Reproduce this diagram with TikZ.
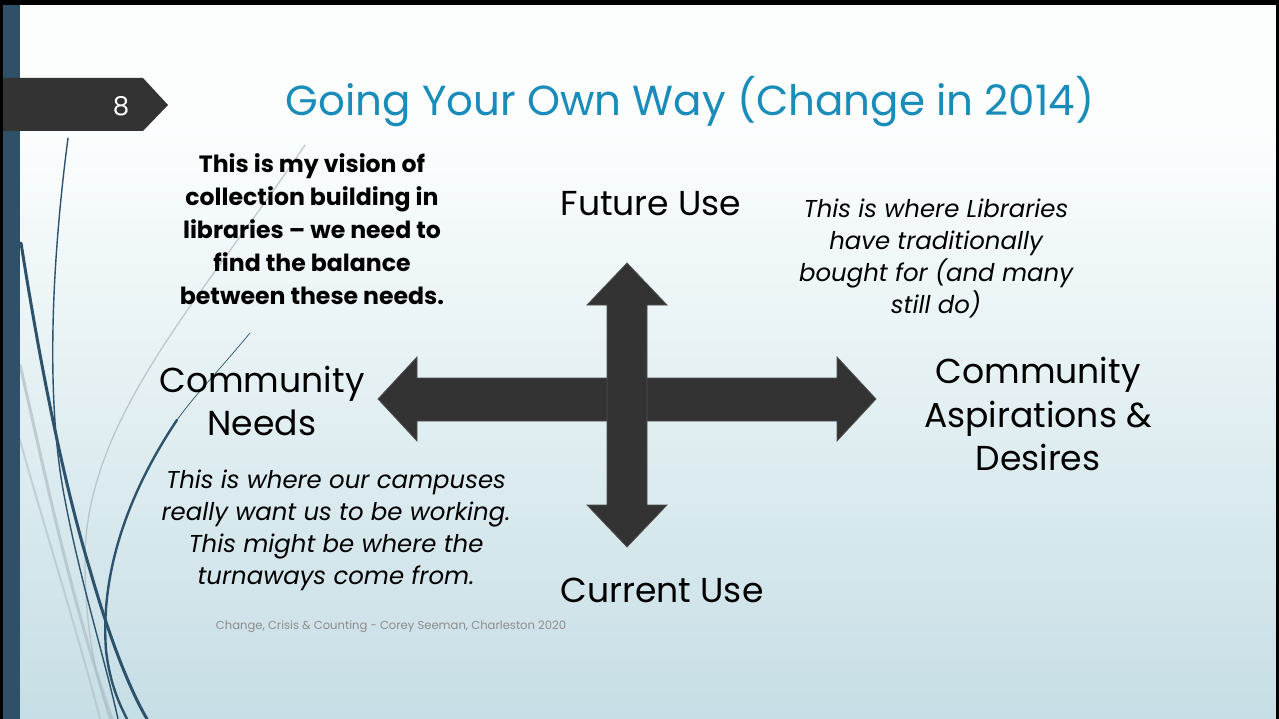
\documentclass[tikz,border=0pt]{standalone}
\usepackage{fontspec}
\setmainfont{Poppins}
\definecolor{bgtop}{RGB}{252,254,254}
\definecolor{bgbot}{RGB}{198,222,229}
\definecolor{barcol}{RGB}{46,80,104}
\definecolor{badgecol}{RGB}{51,51,51}
\definecolor{titlecol}{RGB}{26,140,186}
\definecolor{arrowcol}{RGB}{51,51,51}
\definecolor{arrowedge}{RGB}{80,80,80}
\definecolor{curvecol}{RGB}{44,82,108}
\definecolor{graycurve}{RGB}{175,190,196}
\definecolor{footcol}{RGB}{140,140,140}
\tikzset{
  bigtext/.style={align=center, inner sep=0pt, font=\fontsize{34.6}{43.5}\selectfont},
  itext/.style={align=center, inner sep=0pt, font=\fontsize{24.4}{32}\selectfont\itshape},
  btext/.style={align=center, inner sep=0pt, font=\fontsize{23.6}{33}\selectfont\bfseries},
  arrowshape/.style={fill=arrowcol, draw=arrowedge, line width=0.8pt, line join=miter},
  darkcurve/.style={draw=curvecol, line cap=round},
  lightcurve/.style={draw=graycurve, line cap=round}
}
\begin{document}
\begin{tikzpicture}[x=1pt,y=-1pt]
\useasboundingbox (0,0) rectangle (1279,719);
% background
\fill[bgtop] (0,0) rectangle (1279,125);
\shade[top color=bgtop, bottom color=bgbot] (0,125) rectangle (1279,719);
% decorative curves
\draw[lightcurve, line width=1.3pt, opacity=0.8] (305,145) .. controls (200,300) and (85,420) .. (85,560) .. controls (85,640) and (100,690) .. (110,719);
\draw[lightcurve, line width=3pt, opacity=0.7] (20,365) .. controls (40,450) and (70,600) .. (112,719);
\draw[lightcurve, line width=2pt, opacity=0.6] (20,440) .. controls (45,530) and (80,640) .. (100,719);
\draw[darkcurve, line width=1.4pt] (68,138) .. controls (52,260) and (45,400) .. (65,500) .. controls (80,580) and (105,660) .. (118,719);
\draw[darkcurve, line width=3pt] (21,243) .. controls (38,350) and (60,470) .. (90,570) .. controls (110,640) and (130,690) .. (147,719);
\draw[darkcurve, line width=0.7pt] (250,333) .. controls (215,375) and (195,395) .. (177,420);
\draw[darkcurve, line width=2.4pt] (177,420) .. controls (130,490) and (100,570) .. (106,650) .. controls (110,685) and (120,705) .. (127,719);
% frame
\fill[black] (0,0) rectangle (1279,5);
\fill[black] (0,0) rectangle (3,719);
\fill[black] (1276,0) rectangle (1279,719);
\fill[barcol] (3,5) rectangle (20,719);
% badge
\fill[badgecol] (3,78) -- (143,78) -- (168,105) -- (143,131) -- (3,131) -- cycle;
\node[text=white, inner sep=0pt, font=\fontsize{26}{30}\selectfont] (num) at (121,106) {8};
% title
\node[text=titlecol, inner sep=0pt, font=\fontsize{42}{50}\selectfont] (title) at (690,102) {Going Your Own Way (Change in 2014)};
% arrows
\fill[arrowshape] (378,399) -- (417,357) -- (417,378) -- (837,378) -- (837,357) -- (876,399) -- (837,441) -- (837,421) -- (417,421) -- (417,441) -- cycle;
\fill[arrowshape] (627,263) -- (667,305) -- (647,305) -- (647,505) -- (667,505) -- (627,547) -- (587,505) -- (607,505) -- (607,305) -- (587,305) -- cycle;
% texts
\node[btext] (vision) at (312,229) {This is my vision of\\collection building in\\libraries -- we need to\\find the balance\\between these needs.};
\node[bigtext] (future) at (651,204) {Future Use};
\node[itext] (trad) at (936,258) {This is where Libraries\\have traditionally\\bought for (and many\\still do)};
\node[bigtext] (needs) at (262,401) {Community\\Needs};
\node[bigtext] (asp) at (1038,414) {Community\\Aspirations \&\\Desires};
\node[itext] (campus) at (336,530) {This is where our campuses\\really want us to be working.\\This might be where the\\turnaways come from.};
\node[bigtext] (current) at (662,590) {Current Use};
\node[text=footcol, inner sep=0pt, font=\fontsize{11.6}{14}\selectfont] (foot) at (391,627) {Change, Crisis \& Counting - Corey Seeman, Charleston 2020};
\end{tikzpicture}
\end{document}
